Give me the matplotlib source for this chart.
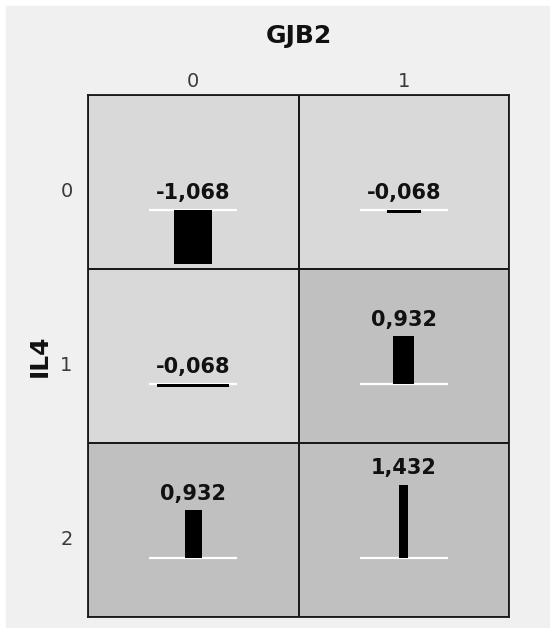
import numpy as np
import matplotlib.pyplot as plt
from matplotlib.colors import ListedColormap
from matplotlib.patches import Rectangle

# Datos: interaccion GJB2 x IL4 (filas = IL4, columnas = GJB2)
gjb2_levels = ['0', '1']
il4_levels = ['0', '1', '2']
values = np.array([[-1.068, -0.068],
                   [-0.068, 0.932],
                   [0.932, 1.432]])
# ancho relativo de cada barra
bar_weight = np.array([[38, 34],
                       [72, 21],
                       [17, 9]])

fig = plt.figure(figsize=(5.5, 6.28), dpi=100)
fig.patch.set_facecolor('white')
fig.add_artist(Rectangle((6 / 550, 0), 1, 1 - 6 / 628, transform=fig.transFigure,
                         color='#f0f0f0', zorder=-5))

ax = fig.add_axes([88 / 550, 1 - 617 / 628, 421 / 550, 522 / 628])

# Celdas: oscuras si el valor es positivo
risk = (values > 0).astype(int)
cmap = ListedColormap(['#d9d9d9', '#c0c0c0'])
ax.pcolormesh(np.arange(len(gjb2_levels) + 1), np.arange(len(il4_levels) + 1), risk,
              cmap=cmap, vmin=0, vmax=1, edgecolors='#1a1a1a', linewidth=1.3)
ax.set_xlim(0, len(gjb2_levels))
ax.set_ylim(len(il4_levels), 0)

# Barras con su linea base
scale = 0.293
for i in range(len(il4_levels)):
    for j in range(len(gjb2_levels)):
        v = values[i, j]
        base = i + 0.66
        xc = j + 0.5
        ax.hlines(base, xc - 0.21, xc + 0.21, color='white', lw=1.6, zorder=2)
        ax.bar(xc, -v * scale, width=bar_weight[i, j] / 210, bottom=base,
               color='black', zorder=3)
        top = min(base, base - v * scale)
        ax.text(xc, top - 0.095, f'{v:.3f}'.replace('.', ','), ha='center', va='center',
                fontsize=15, fontweight='bold', color='#111111')

# Ejes
ax.xaxis.tick_top()
ax.set_xticks(np.arange(len(gjb2_levels)) + 0.5, gjb2_levels)
ax.set_yticks(np.arange(len(il4_levels)) + 0.5, il4_levels)
ax.tick_params(axis='x', length=0, labelsize=14, labelcolor='#3a3a3a', pad=3)
ax.tick_params(axis='y', length=0, labelsize=14, labelcolor='#3a3a3a', pad=11)
for lab in ax.get_yticklabels():
    lab.set_va('top')
for s in ax.spines.values():
    s.set_linewidth(1.3)
    s.set_color('#1a1a1a')

ax.text(0.5, 1 + 59 / 522, 'GJB2', transform=ax.transAxes, ha='center', va='center',
        fontsize=18, fontweight='bold', color='#111111')
ax.text(-48 / 421, 0.5, 'IL4', transform=ax.transAxes, ha='center', va='center',
        rotation=90, fontsize=18, fontweight='bold', color='#111111')

plt.savefig('out.png', dpi=100)
